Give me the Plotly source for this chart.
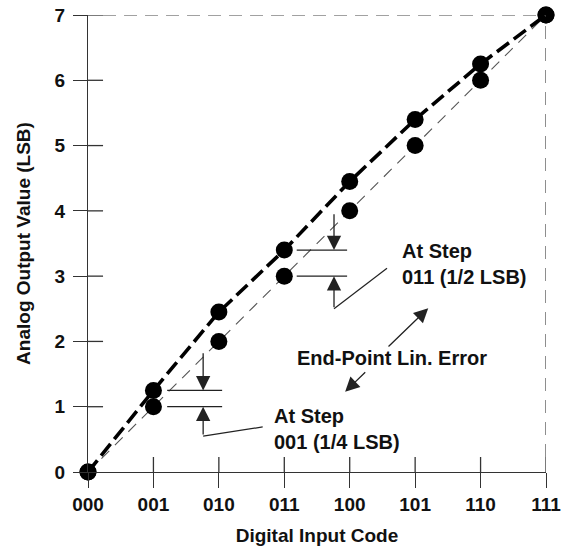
import plotly.graph_objects as go

# ---- data ----
codes = ["000", "001", "010", "011", "100", "101", "110", "111"]
x_idx = [0, 1, 2, 3, 4, 5, 6, 7]
ideal_vals = [0, 1, 2, 3, 4, 5, 6, 7]
actual_vals = [0, 1.25, 2.45, 3.4, 4.45, 5.4, 6.25, 7]
y_ticks = [0, 1, 2, 3, 4, 5, 6, 7]

FONT = "Liberation Sans, Arial, sans-serif"
INK = "#111111"
LINE = "#333333"

fig = go.Figure()

# ideal straight line (thin dashed)
fig.add_trace(go.Scatter(
    x=x_idx, y=ideal_vals, mode="lines+markers",
    line=dict(color="#555555", width=1.1, dash="11px,8px"),
    marker=dict(color="black", size=17),
    cliponaxis=False, showlegend=False, hoverinfo="skip"))

# actual transfer curve (thick dashed)
fig.add_trace(go.Scatter(
    x=x_idx, y=actual_vals, mode="lines+markers",
    line=dict(color="black", width=3.6, dash="15px,6px"),
    marker=dict(color="black", size=17),
    cliponaxis=False, showlegend=False, hoverinfo="skip"))

shapes = []
# inner halves of crossing ticks
for v in x_idx[1:]:
    shapes.append(dict(type="line", xref="x", yref="y", x0=v, x1=v, y0=0, y1=0.23,
                       line=dict(color=LINE, width=1.3)))
for v in y_ticks[1:]:
    shapes.append(dict(type="line", xref="x", yref="y", x0=0, x1=0.23, y0=v, y1=v,
                       line=dict(color=LINE, width=1.3)))
# dashed full-scale borders
shapes.append(dict(type="line", xref="x", yref="y", x0=0.23, x1=7, y0=7, y1=7,
                   line=dict(color="#444444", width=1.2, dash="13px,8px")))
shapes.append(dict(type="line", xref="x", yref="y", x0=7, x1=7, y0=0.23, y1=7,
                   line=dict(color="#444444", width=1.2, dash="13px,9px")))

# measurement bars at step 001 and 011
step_marks = [
    # (x0, x1, y_actual, y_ideal, arrow_x, top_tail, bottom_tail, leader_end_x, leader_end_y)
    (1.21, 2.05, 1.25, 1.0, 1.76, 1.84, 0.55, 2.67, 0.69),
    (3.19, 3.96, 3.4, 3.0, 3.76, 3.97, 2.50, 4.57, 3.12),
]
annotations = []
for (x0, x1, ya, yi, ax_, ttop, tbot, lx, ly) in step_marks:
    for yy in (ya, yi):
        shapes.append(dict(type="line", xref="x", yref="y", x0=x0, x1=x1, y0=yy, y1=yy,
                           line=dict(color="#222222", width=1.3)))
    shapes.append(dict(type="line", xref="x", yref="y", x0=ax_, x1=lx, y0=tbot, y1=ly,
                       line=dict(color="#222222", width=1.2)))
    annotations.append(dict(x=ax_, y=ya, ax=ax_, ay=ttop, xref="x", yref="y",
                            axref="x", ayref="y", text="", showarrow=True,
                            arrowhead=2, arrowsize=2.2, arrowwidth=1.3,
                            arrowcolor="#222222", standoff=0))
    annotations.append(dict(x=ax_, y=yi, ax=ax_, ay=tbot, xref="x", yref="y",
                            axref="x", ayref="y", text="", showarrow=True,
                            arrowhead=2, arrowsize=2.2, arrowwidth=1.3,
                            arrowcolor="#222222", standoff=0))

label_font = dict(family=FONT, size=20, color=INK, weight="bold")
annotations.append(dict(x=2.81, y=0.66, xref="x", yref="y", text="At Step<br>001 (1/4 LSB)",
                        showarrow=False, xanchor="left", yanchor="middle", align="left",
                        font=label_font))
annotations.append(dict(x=4.77, y=3.19, xref="x", yref="y", text="At Step<br>011 (1/2 LSB)",
                        showarrow=False, xanchor="left", yanchor="middle", align="left",
                        font=label_font))
annotations.append(dict(x=4.64, y=1.75, xref="x", yref="y", text="End-Point Lin. Error",
                        showarrow=False, xanchor="center", yanchor="middle",
                        font=label_font))
# double-headed arrow broken by the label
annotations.append(dict(x=5.20, y=2.51, ax=4.57, ay=1.90, xref="x", yref="y",
                        axref="x", ayref="y", text="", showarrow=True,
                        arrowhead=2, arrowsize=2.2, arrowwidth=1.3,
                        arrowcolor="#222222", standoff=0))
annotations.append(dict(x=3.93, y=1.23, ax=4.26, ay=1.55, xref="x", yref="y",
                        axref="x", ayref="y", text="", showarrow=True,
                        arrowhead=2, arrowsize=2.2, arrowwidth=1.3,
                        arrowcolor="#222222", standoff=0))

tick_font = dict(family=FONT, size=19, color=INK, weight="bold")
title_font = dict(family=FONT, size=19, color=INK, weight="bold")

fig.update_layout(
    width=565, height=548,
    margin=dict(l=88, r=19, t=15, b=76),
    paper_bgcolor="white", plot_bgcolor="white",
    shapes=shapes, annotations=annotations,
    xaxis=dict(range=[0, 7], tickmode="array", tickvals=x_idx, ticktext=codes,
               automargin=False, ticklabeloverflow="allow",
               showgrid=False, zeroline=False, showline=True, linecolor=LINE, linewidth=1.3,
               ticks="outside", ticklen=15, tickwidth=1.3, tickcolor=LINE,
               tickfont=tick_font, ticklabelstandoff=0,
               title=dict(text="Digital Input Code", font=title_font, standoff=14)),
    yaxis=dict(range=[0, 7], tickmode="array", tickvals=y_ticks,
               automargin=False, ticklabeloverflow="allow",
               showgrid=False, zeroline=False, showline=True, linecolor=LINE, linewidth=1.3,
               ticks="outside", ticklen=14, tickwidth=1.3, tickcolor=LINE,
               tickfont=tick_font, ticklabelstandoff=4,
               title=dict(text="Analog Output Value (LSB)", font=title_font, standoff=18)),
)

# remove the browser's default 8px page margin so the figure fills the window exactly
fig.write_html("out.html", config={"displayModeBar": False},
               post_script="document.body.style.margin='0';")
